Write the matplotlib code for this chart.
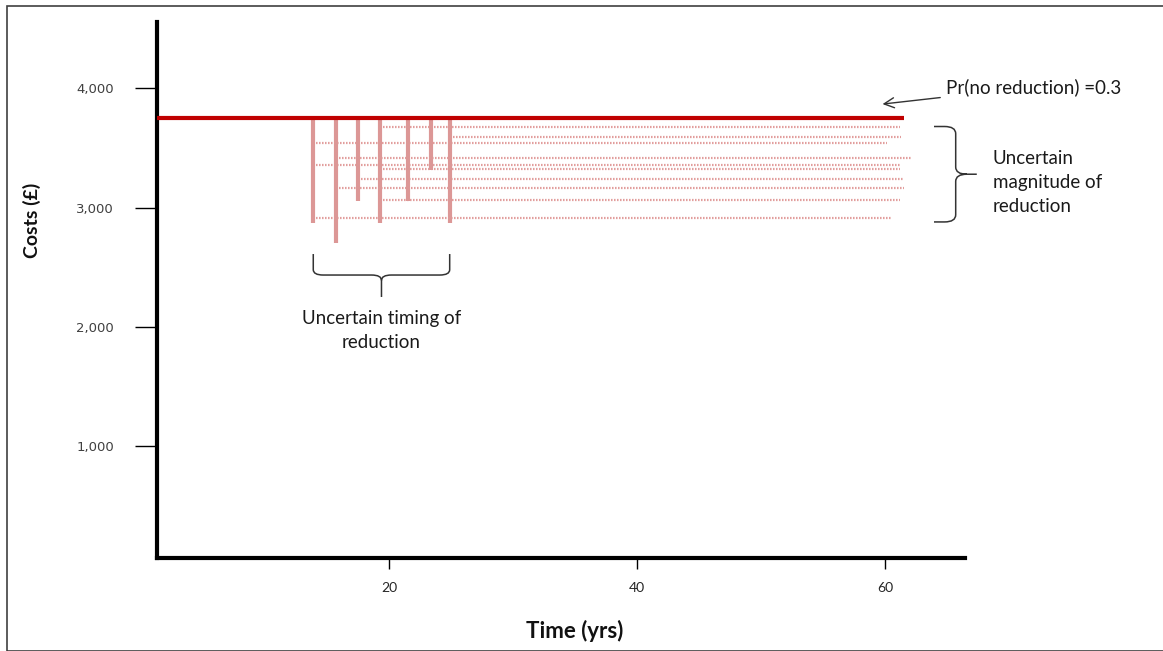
import matplotlib.pyplot as plt
from matplotlib.patches import Rectangle, PathPatch
from matplotlib.path import Path

# Schematic: cost path with uncertain timing / size of a reduction
base_cost = 3750
line_start, line_end = 0, 61.5

# timing of the reduction (yrs) and the lowest cost reached at that time
reduction_times = [13.9, 15.7, 17.5, 19.3, 21.5, 23.4, 24.9]
reduction_lows = [2870, 2700, 3055, 2870, 3055, 3315, 2870]

# reduced cost levels (dotted lines): start year, level, end year
dotted_starts = [19.3, 24.9, 13.9, 15.7, 13.9, 19.3, 17.5, 15.7, 19.3, 13.9]
dotted_levels = [3680, 3590, 3545, 3415, 3360, 3320, 3240, 3165, 3065, 2910]
dotted_ends = [61.2, 61.3, 60.2, 62.2, 61.2, 61.2, 61.5, 61.5, 61.2, 60.6]

x_ticks = [20, 40, 60]
y_ticks = [1000, 2000, 3000, 4000]
y_tick_labels = ["1,000", "2,000", "3,000", "4,000"]

fig = plt.figure(figsize=(11.63, 6.51), dpi=100)
ax = fig.add_axes([157 / 1163, 1 - 558 / 651, (965 - 157) / 1163, (558 - 22) / 651])
ax.set_xlim(1.3, 66.45)
ax.set_ylim(63, 4556)

# outer frame of the picture
fig.patches.append(Rectangle((7 / 1163, 0), 1.2, 1 - 6 / 651, transform=fig.transFigure,
                             fill=False, edgecolor="#404040", lw=1.2))

pink = "#dc9796"
ax.hlines(dotted_levels, dotted_starts, dotted_ends, colors="#e29e9d", lw=1.6,
          linestyles=[(0, (0.7, 0.65))])
ax.vlines(reduction_times, reduction_lows, base_cost, colors=pink, lw=3)
ax.hlines(base_cost, line_start, line_end, colors="#c00000", lw=3, zorder=4)

# axes styling
for side in ["top", "right"]:
    ax.spines[side].set_visible(False)
for side in ["left", "bottom"]:
    ax.spines[side].set_linewidth(3)
    ax.spines[side].set_capstyle("projecting")
ax.set_xticks(x_ticks)
ax.set_xticklabels([str(t) for t in x_ticks], family="Lato", fontsize=10, color="#262626")
ax.set_yticks(y_ticks)
ax.set_yticklabels(y_tick_labels, family="DejaVu Sans", fontsize=9.5, color="#404040")
ax.tick_params(axis="y", length=16, width=1, pad=15, direction="out")
ax.tick_params(axis="x", length=8, width=1, pad=9, direction="out")

fig.text(32 / 1163, 1 - 220 / 651, "Costs (£)", rotation=90, ha="center", va="center",
         family="Lato", fontweight="bold", fontsize=14, color="#111111")
fig.text(575 / 1163, 1 - 631 / 651, "Time (yrs)", ha="center", va="center",
         family="Lato", fontweight="bold", fontsize=16, color="#111111")

txt = dict(family="Lato", fontsize=13.5, color="#1a1a1a")

# Pr(no reduction) annotation with arrow
ax.annotate("Pr(no reduction) =0.3", xy=(59.8, 3868), xytext=(64.9, 4011),
            ha="left", va="center", annotation_clip=False, **txt,
            arrowprops=dict(arrowstyle="->", color="#333333", lw=1,
                            mutation_scale=18, shrinkA=2, shrinkB=0))


def brace_h(ax, x0, x1, y_top, y_bar, y_tip):
    # horizontal brace opening upward, tip pointing down
    xm = (x0 + x1) / 2
    rx, ry = 0.8, 45
    verts = [(x0, y_top), (x0, y_bar + ry), (x0, y_bar), (x0 + rx, y_bar),
             (xm - rx, y_bar), (xm, y_bar), (xm, y_bar - ry), (xm, y_tip),
             (xm, y_bar - ry), (xm, y_bar), (xm + rx, y_bar),
             (x1 - rx, y_bar), (x1, y_bar), (x1, y_bar + ry), (x1, y_top)]
    codes = [Path.MOVETO, Path.LINETO, Path.CURVE3, Path.CURVE3,
             Path.LINETO, Path.CURVE3, Path.CURVE3, Path.LINETO,
             Path.MOVETO, Path.CURVE3, Path.CURVE3,
             Path.LINETO, Path.CURVE3, Path.CURVE3, Path.LINETO]
    ax.add_patch(PathPatch(Path(verts, codes), fill=False, edgecolor="#333333",
                           lw=1.1, clip_on=False))


def brace_v(ax, x_open, x_bar, x_tip, y0, y1):
    # vertical brace opening left, tip pointing right
    ym = (y0 + y1) / 2
    rx, ry = 0.9, 60
    verts = [(x_open, y1), (x_bar - rx, y1), (x_bar, y1), (x_bar, y1 - ry),
             (x_bar, ym + ry), (x_bar, ym), (x_bar + rx, ym), (x_tip, ym),
             (x_bar + rx, ym), (x_bar, ym), (x_bar, ym - ry),
             (x_bar, y0 + ry), (x_bar, y0), (x_bar - rx, y0), (x_open, y0)]
    codes = [Path.MOVETO, Path.LINETO, Path.CURVE3, Path.CURVE3,
             Path.LINETO, Path.CURVE3, Path.CURVE3, Path.LINETO,
             Path.MOVETO, Path.CURVE3, Path.CURVE3,
             Path.LINETO, Path.CURVE3, Path.CURVE3, Path.LINETO]
    ax.add_patch(PathPatch(Path(verts, codes), fill=False, edgecolor="#333333",
                           lw=1.1, clip_on=False))


brace_h(ax, min(reduction_times), max(reduction_times), 2611, 2435, 2251)
ax.text((min(reduction_times) + max(reduction_times)) / 2, 1970,
        "Uncertain timing of\nreduction", ha="center", va="center",
        linespacing=1.5, **txt)

brace_v(ax, 63.95, 65.7, 67.4, min(dotted_levels) - 30, max(dotted_levels))
ax.text(68.7, 3214, "Uncertain\nmagnitude of\nreduction", ha="left", va="center",
        linespacing=1.5, **txt)

fig.savefig("out.png", dpi=100)
